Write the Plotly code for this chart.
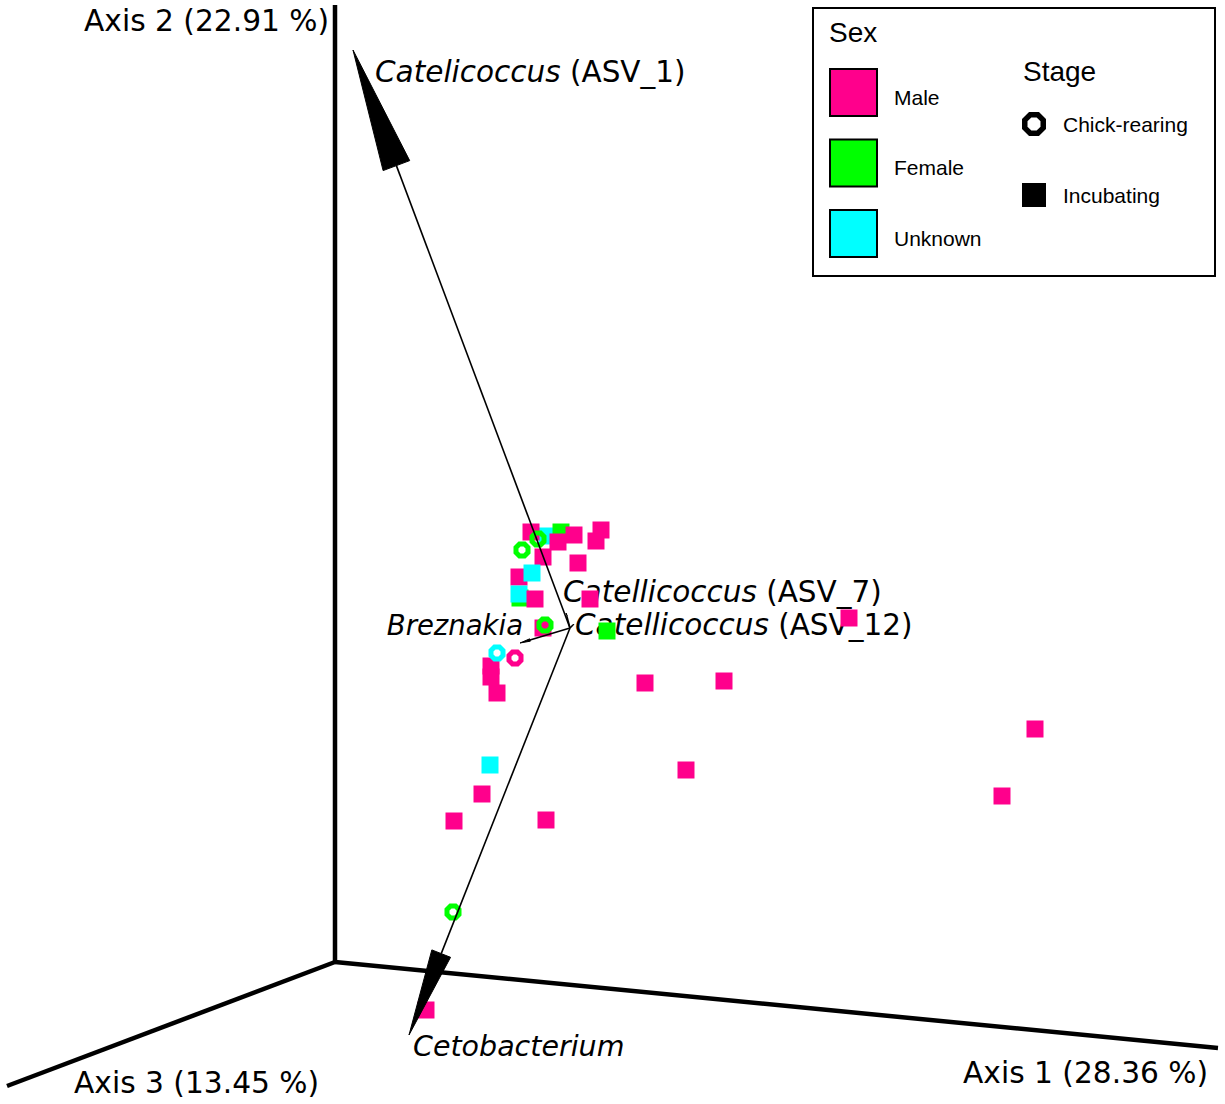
import numpy as np
import plotly.graph_objects as go

W, H = 1225, 1104

# Ordination scores of the samples, already projected into the 3-D view plane
sample_x = [547, 561, 520, 531, 558, 574, 601, 596, 543, 578, 519, 532, 519, 535, 590,
            543, 607, 849, 491, 491, 497, 645, 724, 686, 1035, 1002, 546, 454, 482, 490,
            426, 538, 522, 545, 497, 515, 453]
sample_y = [536, 532, 598, 532, 542, 535, 530, 541, 557, 563, 577, 573, 594, 599, 599,
            628, 631, 618, 666, 677, 693, 683, 681, 770, 729, 796, 820, 821, 794, 765,
            1010, 539, 550, 625, 653, 658, 912]
sample_sex = (["Unknown", "Female", "Female", "Male", "Male", "Male", "Male", "Male", "Male",
               "Male", "Male", "Unknown", "Unknown", "Male", "Male", "Male", "Female", "Male",
               "Male", "Male", "Male", "Male", "Male", "Male", "Male", "Male", "Male", "Male",
               "Male", "Unknown", "Male"]
              + ["Female", "Female", "Female", "Unknown", "Male", "Female"])
sample_stage = ["Incubating"] * 31 + ["Chick-rearing"] * 6

sex_levels = ["Male", "Female", "Unknown"]
sex_colors = ["#ff008c", "#00ff00", "#00ffff"]
stage_levels = ["Chick-rearing", "Incubating"]

# Principal axes drawn from the common origin
axis_origin_x, axis_origin_y = 335, 962
axis_end_x = [1218, 335, 7]
axis_end_y = [1048, 5, 1086]
axis_titles = ["Axis 1 (28.36 %)", "Axis 2 (22.91 %)", "Axis 3 (13.45 %)"]

# Biplot feature vectors
biplot_origin_x, biplot_origin_y = 570, 628
feature_names = ["<i>Catelicoccus</i> (ASV_1)", "<i>Cetobacterium</i>", "<i>Breznakia</i>",
                 "<i>Catellicoccus</i> (ASV_7)", "<i>Catellicoccus</i> (ASV_12)"]
feature_tip_x = [353, 409, 520, 566, 574]
feature_tip_y = [50, 1035, 643, 613, 624]

MAIN_FONT = "DejaVu Sans, Verdana, sans-serif"
LEGEND_FONT = "Liberation Sans, Arial, sans-serif"

fig = go.Figure()

# feature labels (drawn first so the samples sit on top of them)
label_pos = ["middle right", "middle right", "middle left", "middle right", "middle right"]
label_dx = [22, 4, 3, -3, 1]
label_dy = [25, 14, -15, -18, 4]
label_size = [29.5, 28.5, 27.5, 29.5, 29.5]
for name, tx, ty, pos, dx, dy, sz in zip(feature_names, feature_tip_x, feature_tip_y,
                                          label_pos, label_dx, label_dy, label_size):
    fig.add_trace(go.Scatter(
        x=[tx + dx], y=[ty + dy], mode="text", text=[name], textposition=pos,
        textfont=dict(family=MAIN_FONT, size=sz, color="black"),
        hoverinfo="skip", showlegend=False))

# samples
sex_color_map = dict(zip(sex_levels, sex_colors))
for x, y, sex, stage in zip(sample_x, sample_y, sample_sex, sample_stage):
    c = sex_color_map[sex]
    if stage == "Incubating":
        marker = dict(symbol="square", size=17, color=c, line=dict(width=0))
    else:
        marker = dict(symbol="octagon-open", size=13, color=c, line=dict(width=5, color=c))
    fig.add_trace(go.Scatter(x=[x], y=[y], mode="markers", marker=marker,
                             hoverinfo="skip", showlegend=False))

# feature arrows
for tx, ty in zip(feature_tip_x, feature_tip_y):
    dx, dy = tx - biplot_origin_x, ty - biplot_origin_y
    length = np.hypot(dx, dy)
    ux, uy = dx / length, dy / length
    head_len = 0.2 * length
    half_w = 0.115 * head_len
    bx, by = tx - ux * head_len, ty - uy * head_len
    px, py = -uy, ux
    fig.add_trace(go.Scatter(
        x=[biplot_origin_x, bx], y=[biplot_origin_y, by], mode="lines",
        line=dict(color="black", width=1.6), hoverinfo="skip", showlegend=False))
    fig.add_trace(go.Scatter(
        x=[tx, bx + px * half_w, bx - px * half_w, tx],
        y=[ty, by + py * half_w, by - py * half_w, ty],
        mode="lines", fill="toself", fillcolor="black",
        line=dict(color="black", width=1), hoverinfo="skip", showlegend=False))

shapes = []
for ex, ey in zip(axis_end_x, axis_end_y):
    shapes.append(dict(type="line", x0=axis_origin_x, y0=axis_origin_y, x1=ex, y1=ey,
                       line=dict(color="black", width=4.5), layer="below"))

annotations = [
    dict(x=1210, y=1072, text=axis_titles[0], xanchor="right", yanchor="middle"),
    dict(x=331, y=20, text=axis_titles[1], xanchor="right", yanchor="middle"),
    dict(x=72, y=1082, text=axis_titles[2], xanchor="left", yanchor="middle"),
]
for a in annotations:
    a.update(showarrow=False, font=dict(family=MAIN_FONT, size=29.7, color="black"))

# legend panel
shapes.append(dict(type="rect", x0=813, y0=8, x1=1215, y1=276, fillcolor="white",
                   line=dict(color="black", width=2), layer="below"))
annotations.append(dict(x=827, y=32, text="Sex", xanchor="left", yanchor="middle",
                        showarrow=False, font=dict(family=LEGEND_FONT, size=28, color="black")))
annotations.append(dict(x=1021, y=71, text="Stage", xanchor="left", yanchor="middle",
                        showarrow=False, font=dict(family=LEGEND_FONT, size=28, color="black")))
for i, (lvl, col) in enumerate(zip(sex_levels, sex_colors)):
    top = 69 + i * 70.5
    shapes.append(dict(type="rect", x0=830, y0=top, x1=877, y1=top + 47, fillcolor=col,
                       line=dict(color="black", width=2), layer="above"))
    annotations.append(dict(x=892, y=top + 28, text=lvl, xanchor="left", yanchor="middle",
                            showarrow=False,
                            font=dict(family=LEGEND_FONT, size=21, color="black")))
stage_symbols = [dict(symbol="octagon-open", size=20, color="black",
                      line=dict(width=5.5, color="black")),
                 dict(symbol="square", size=24, color="black", line=dict(width=0))]
for i, (lvl, mk) in enumerate(zip(stage_levels, stage_symbols)):
    cy = 124 + i * 71
    fig.add_trace(go.Scatter(x=[1034], y=[cy], mode="markers", marker=mk,
                             hoverinfo="skip", showlegend=False))
    annotations.append(dict(x=1061, y=cy, text=lvl, xanchor="left", yanchor="middle",
                            showarrow=False,
                            font=dict(family=LEGEND_FONT, size=21, color="black")))

fig.update_layout(
    width=W, height=H, margin=dict(l=0, r=0, t=0, b=0),
    paper_bgcolor="white", plot_bgcolor="white",
    xaxis=dict(range=[0, W], visible=False, fixedrange=True),
    yaxis=dict(range=[H, 0], visible=False, fixedrange=True),
    shapes=shapes, annotations=annotations, showlegend=False, hovermode=False,
)

fig.write_html("out.html", config={"displayModeBar": False})
